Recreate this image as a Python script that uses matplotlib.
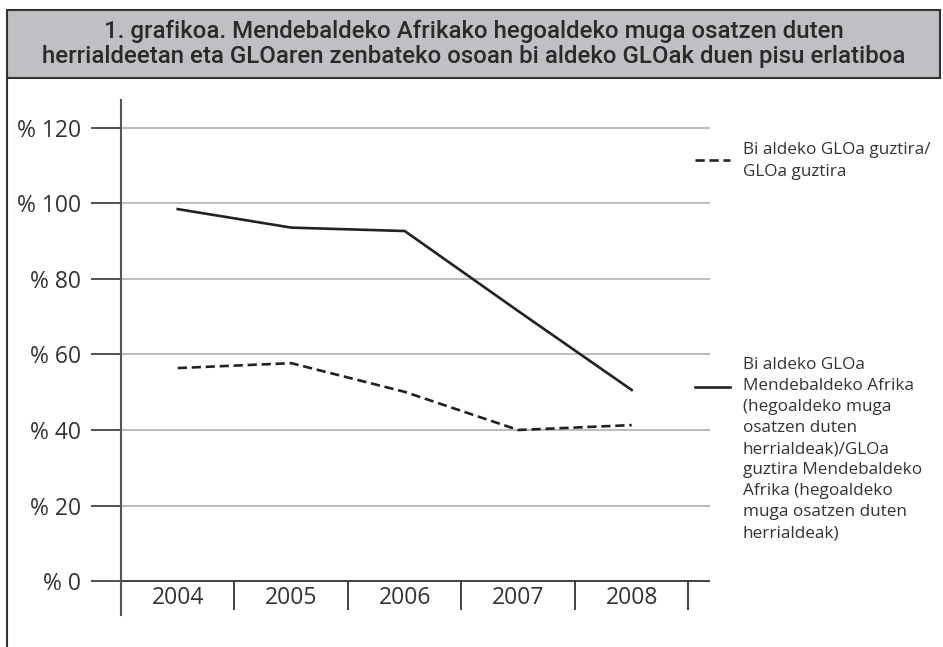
import matplotlib.pyplot as plt
from matplotlib.lines import Line2D
from matplotlib.patches import Rectangle

# data
years = ["2004", "2005", "2006", "2007", "2008"]
bi_aldeko_total = [56.4, 57.7, 50.1, 40.0, 41.3]      # dashed
bi_aldeko_afrika = [98.5, 93.6, 92.7, 71.5, 50.6]     # solid
yticks = [0, 20, 40, 60, 80, 100, 120]

title_lines = ["1. grafikoa. Mendebaldeko Afrikako hegoaldeko muga osatzen duten",
               "herrialdeetan eta GLOaren zenbateko osoan bi aldeko GLOak duen pisu erlatiboa"]
label_dashed = "Bi aldeko GLOa guztira/\nGLOa guztira"
label_solid = ("Bi aldeko GLOa\nMendebaldeko Afrika\n(hegoaldeko muga\nosatzen duten\n"
               "herrialdeak)/GLOa\nguztira Mendebaldeko\nAfrika (hegoaldeko\n"
               "muga osatzen duten\nherrialdeak)")

W, H = 943, 647
fig = plt.figure(figsize=(W / 100, H / 100), dpi=100)

def fx(px):
    return px / W

def fy(py):
    return 1 - py / H

# title box and left border
fig.patches.append(Rectangle((fx(7), fy(78)), fx(933), 68 / H, transform=fig.transFigure,
                             facecolor="#c0c0c4", edgecolor="#333333", lw=1.5))
fig.lines.append(Line2D([fx(7), fx(7)], [fy(78), 0], transform=fig.transFigure,
                        color="#333333", lw=1.5))
for line, py in zip(title_lines, [31, 57]):
    fig.text(fx(474), fy(py), line, ha="center", va="center", fontsize=17.3,
             fontweight="medium", family="Roboto", color="#2a2a2a")

ax = fig.add_axes([fx(121), fy(615), fx(589), 515 / H])
x = list(range(len(years)))
ax.set_xlim(-0.5, 4.69)
ax.set_ylim(-9.0, 127.4)

for s in ["top", "right", "bottom"]:
    ax.spines[s].set_visible(False)
ax.spines["left"].set_color("#555555")
ax.spines["left"].set_linewidth(1.5)

for v in yticks[1:]:
    ax.axhline(v, color="#b0b0b0", lw=1.2, zorder=1)
ax.axhline(0, color="#333333", lw=1.3, zorder=2)
ax.vlines([i + 0.5 for i in x], -7.7, 0, color="#333333", lw=1.3)

ax.set_yticks(yticks)
ax.set_yticklabels(["% " + str(v) for v in yticks], fontsize=16.5,
                   family="Open Sans", color="#333333")
ax.tick_params(axis="y", length=21.6, width=1.2, color="#333333", pad=7)
ax.set_xticks([])
for i, yr in zip(x, years):
    ax.text(i, -4.4, yr, ha="center", va="center", fontsize=16.5,
            family="Open Sans", color="#333333")

ax.plot(x, bi_aldeko_afrika, color="#222222", lw=1.9, zorder=3)
ax.plot(x, bi_aldeko_total, color="#222222", lw=1.9, dashes=(3.5, 1.8), zorder=3)

# legend drawn by hand
fig.lines.append(Line2D([fx(695), fx(730)], [fy(160), fy(160)], transform=fig.transFigure,
                        color="#222222", lw=1.9, dashes=(3.5, 1.8)))
fig.lines.append(Line2D([fx(695), fx(730)], [fy(387), fy(387)], transform=fig.transFigure,
                        color="#222222", lw=1.9))
fig.text(fx(743), fy(161), label_dashed, ha="left", va="center", fontsize=12.3,
         family="Open Sans", color="#333333", linespacing=1.45)
fig.text(fx(743), fy(449), label_solid, ha="left", va="center", fontsize=12.3,
         family="Open Sans", color="#333333", linespacing=1.42)

fig.savefig("out.png", dpi=100, facecolor="white")
